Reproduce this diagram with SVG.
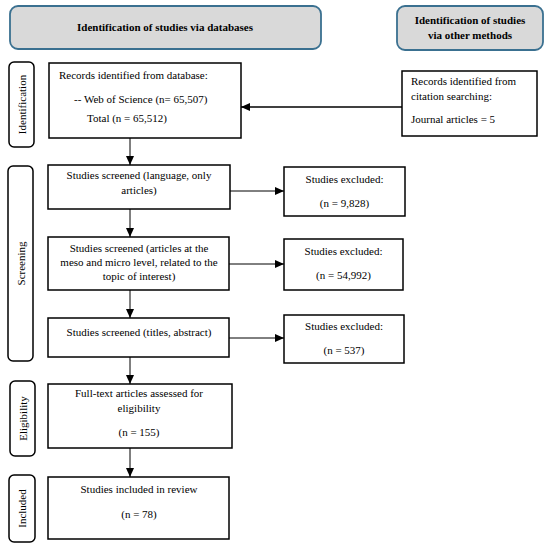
<svg xmlns="http://www.w3.org/2000/svg" width="550" height="547" viewBox="0 0 550 547">
<defs>
<style>
.hdr{fill:#d9d9d9;stroke:#3a7090;stroke-width:1.8}
.lab{fill:#fff;stroke:#000;stroke-width:1.5}
.box{fill:#fff;stroke:#000;stroke-width:1.5}
.t{font-family:"Liberation Serif","Times New Roman",serif;font-size:11px;fill:#000}
.c{text-anchor:middle}
.b{font-weight:bold}
.con{stroke:#000;stroke-width:1;fill:none}
.thick{stroke-width:1.6}
</style>
<marker id="ah" markerUnits="userSpaceOnUse" markerWidth="10" markerHeight="8" refX="9" refY="4" orient="auto">
<path d="M0,0 L9,4 L0,8 Z" fill="#000"/>
</marker>
</defs>
<rect width="550" height="547" fill="#fff"/>
<g id="header-databases">
<rect class="hdr" x="10" y="6" width="311" height="43" rx="8"/>
<text class="t b c" x="165" y="31">Identification of studies via databases</text>
</g>
<g id="header-other">
<rect class="hdr" x="397" y="6" width="146" height="44" rx="8"/>
<text class="t b c" x="470" y="24">Identification of studies</text>
<text class="t b c" x="470" y="39">via other methods</text>
</g>
<g id="label-identification">
<rect class="lab" x="9" y="62" width="25" height="85" rx="5"/>
<text class="t c" transform="translate(25.5,104.5) rotate(-90)">Identification</text>
</g>
<g id="label-screening">
<rect class="lab" x="8" y="166" width="25" height="195" rx="5"/>
<text class="t c" transform="translate(24.5,263.5) rotate(-90)">Screening</text>
</g>
<g id="label-eligibility">
<rect class="lab" x="10" y="381" width="25" height="75" rx="5"/>
<text class="t c" transform="translate(26.5,418.5) rotate(-90)">Eligibility</text>
</g>
<g id="label-included">
<rect class="lab" x="9" y="475" width="26" height="67" rx="5"/>
<text class="t c" transform="translate(26,508.5) rotate(-90)">Included</text>
</g>
<g id="records-database">
<rect class="box" x="49" y="63" width="192" height="75"/>
<text class="t" x="59" y="79">Records identified from database:</text>
<text class="t" x="74" y="103">-- Web of Science (n= 65,507)</text>
<text class="t" x="87" y="122">Total (n = 65,512)</text>
</g>
<g id="records-citation">
<rect class="box" x="402" y="71" width="135" height="65"/>
<text class="t" x="411" y="85">Records identified from</text>
<text class="t" x="411" y="100">citation searching:</text>
<text class="t" x="411" y="123">Journal articles = 5</text>
</g>
<g id="screen-language">
<rect class="box" x="48" y="165" width="182" height="44"/>
<text class="t c" x="139" y="179">Studies screened (language, only</text>
<text class="t c" x="139" y="194">articles)</text>
</g>
<g id="excluded-1">
<rect class="box" x="284" y="167" width="121" height="49"/>
<text class="t c" x="344.5" y="183">Studies excluded:</text>
<text class="t c" x="344.5" y="207">(n = 9,828)</text>
</g>
<g id="screen-meso">
<rect class="box" x="48" y="237" width="181" height="53"/>
<text class="t c" x="139" y="252">Studies screened (articles at the</text>
<text class="t c" x="139" y="266">meso and micro level, related to the</text>
<text class="t c" x="139" y="280">topic of interest)</text>
</g>
<g id="excluded-2">
<rect class="box" x="284" y="239" width="119" height="51"/>
<text class="t c" x="343.5" y="255">Studies excluded:</text>
<text class="t c" x="343.5" y="279">(n = 54,992)</text>
</g>
<g id="screen-titles">
<rect class="box" x="48" y="318" width="181" height="39"/>
<text class="t c" x="139" y="336">Studies screened (titles, abstract)</text>
</g>
<g id="excluded-3">
<rect class="box" x="284" y="315" width="120" height="48"/>
<text class="t c" x="344" y="330">Studies excluded:</text>
<text class="t c" x="344" y="354">(n = 537)</text>
</g>
<g id="eligibility">
<rect class="box" x="48" y="384" width="184" height="64"/>
<text class="t c" x="139" y="397">Full-text articles assessed for</text>
<text class="t c" x="139" y="412">eligibility</text>
<text class="t c" x="139" y="436">(n = 155)</text>
</g>
<g id="included">
<rect class="box" x="48" y="477" width="181" height="62"/>
<text class="t c" x="139" y="493">Studies included in review</text>
<text class="t c" x="139" y="518">(n = 78)</text>
</g>
<g id="connectors">
<line class="con thick" x1="402" y1="107" x2="241" y2="107" marker-end="url(#ah)"/>
<line class="con" x1="130" y1="138" x2="130" y2="165" marker-end="url(#ah)"/>
<line class="con" x1="130" y1="209" x2="130" y2="237" marker-end="url(#ah)"/>
<line class="con" x1="130" y1="290" x2="130" y2="318" marker-end="url(#ah)"/>
<line class="con" x1="130" y1="357" x2="130" y2="384" marker-end="url(#ah)"/>
<line class="con" x1="130" y1="448" x2="130" y2="477" marker-end="url(#ah)"/>
<line class="con" x1="230" y1="191" x2="284" y2="191" marker-end="url(#ah)"/>
<line class="con" x1="229" y1="264" x2="284" y2="264" marker-end="url(#ah)"/>
<line class="con" x1="229" y1="338" x2="284" y2="338" marker-end="url(#ah)"/>
</g>
</svg>
